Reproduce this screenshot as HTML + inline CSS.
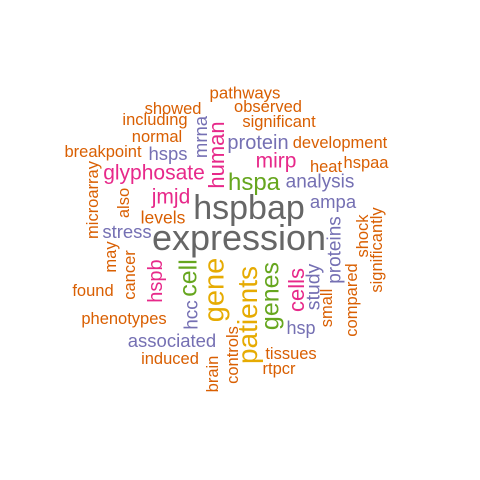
<!DOCTYPE html>
<html><head><meta charset="utf-8"><style>
html,body{margin:0;padding:0;background:#fff;}
#cloud{position:relative;width:480px;height:480px;overflow:hidden;font-family:"Liberation Sans",Arial,sans-serif;}
#cloud span{position:absolute;line-height:1;white-space:nowrap;}
</style></head><body>
<div id="cloud"></div>
<script>
const words = ["expression","hspbap","gene","patients","genes","hspa","cell","human","cells","glyphosate","mirp","jmjd","protein","hspb","study","proteins","analysis","ampa","stress","associated","hsps","mrna","hsp","hcc","levels","pathways","showed","observed","including","significant","normal","development","breakpoint","heat","hspaa","microarray","also","may","cancer","found","phenotypes","induced","tissues","rtpcr","small","compared","shock","significantly","brain","controls"];
const sizes = [36,34,29,28,25,24,25,22,22,21,21,21,20,20,19.5,19,19,18.5,18.5,18.5,18.5,18.5,18,19,17.5,16.8,16.5,16.5,16.5,16.5,16.5,16.5,16.5,16.5,16.5,16.5,16.5,16.5,16.5,16.5,16.5,16.5,16.5,16.5,16.5,16.5,16.5,16.5,16.5,16.5];
const colors = ["#666666","#666666","#E6AB02","#E6AB02","#66A61E","#66A61E","#66A61E","#E7298A","#E7298A","#E7298A","#E7298A","#E7298A","#7570B3","#E7298A","#7570B3","#7570B3","#7570B3","#7570B3","#7570B3","#7570B3","#7570B3","#7570B3","#7570B3","#7570B3","#D95F02","#D95F02","#D95F02","#D95F02","#D95F02","#D95F02","#D95F02","#D95F02","#D95F02","#D95F02","#D95F02","#D95F02","#D95F02","#D95F02","#D95F02","#D95F02","#D95F02","#D95F02","#D95F02","#D95F02","#D95F02","#D95F02","#D95F02","#D95F02","#D95F02","#D95F02"];
const cx = [239,249,215,248,271,254,189,217,297,154,276,171,258,156,314,335,320,333,127,172,168,201,301,192,163,245,173,268,155,279,157,340,103,326,366,93,124,111,130,93,124,170,291,279,327,352,363,377,213,233];
const cy = [238,208,290,315,296,183,278,155,290,173,161,197,143,281,287,250,182,202,232,341,154,137,328,315,218,94,109,107,120,122,137,143,152,167,163,200,203,257,275,291,319,359,354,369,308,300,236,250,374,355];
const vertical = [0,0,1,1,1,0,1,1,1,0,0,0,0,1,1,1,0,0,0,0,0,1,0,1,0,0,0,0,0,0,0,0,0,0,0,1,1,1,1,0,0,0,0,0,1,1,1,1,1,1];
const cloud = document.getElementById('cloud');
for (let i = 0; i < words.length; i++) {
  const el = document.createElement('span');
  el.textContent = words[i];
  el.style.fontSize = sizes[i] + 'px';
  el.style.color = colors[i];
  el.style.left = cx[i] + 'px';
  el.style.top = cy[i] + 'px';
  el.style.transform = 'translate(-50%,-50%)' + (vertical[i] ? ' rotate(-90deg)' : '');
  
  
  cloud.appendChild(el);
}
</script>
</body></html>
